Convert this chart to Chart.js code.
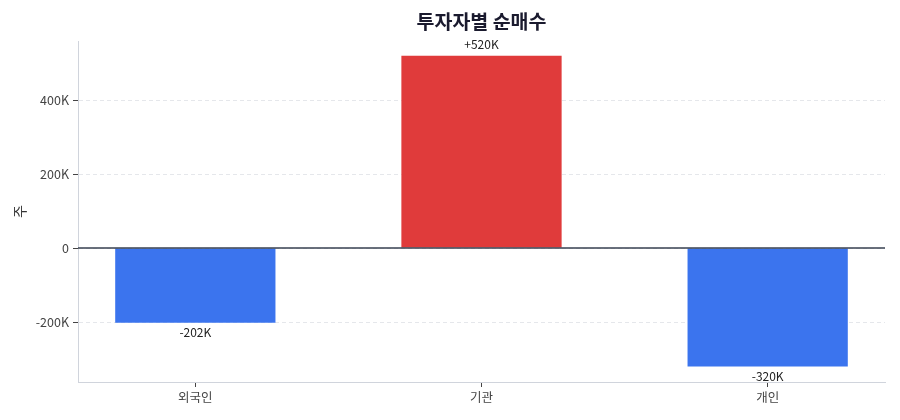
<!DOCTYPE html>
<html>
<head>
<meta charset="utf-8">
<script src="https://cdn.jsdelivr.net/npm/chart.js@4/dist/chart.umd.min.js"></script>
<style>
  html, body { margin: 0; padding: 0; background: #fff; }
  #wrap { width: 900px; height: 420px; }
</style>
</head>
<body>
<div id="wrap"><canvas id="grafico"></canvas></div>
<script>
// Dados
const categorias = ["외국인", "기관", "개인"];
const valores = [-202000, 520000, -320000];
const ticksY = [-200000, 0, 200000, 400000];
const titulo = "투자자별 순매수";

const corPositivo = "#e03b3b";
const corNegativo = "#3b74ee";
const fonte = "'Noto Sans CJK KR', 'Noto Sans', sans-serif";

function formatarK(v) {
  if (v === 0) return "0";
  return v / 1000 + "K";
}

// título centrado na área do gráfico, linha do zero e rótulos das barras
const pluginExtras = {
  id: "extras",
  afterDatasetsDraw(chart) {
    const { ctx, chartArea, scales } = chart;
    const y0 = scales.y.getPixelForValue(0);
    ctx.save();
    ctx.strokeStyle = "#374151";
    ctx.lineWidth = 1.5;
    ctx.beginPath();
    ctx.moveTo(chartArea.left, y0);
    ctx.lineTo(chartArea.right, y0);
    ctx.stroke();

    ctx.font = "12px " + fonte;
    ctx.fillStyle = "#222";
    ctx.textAlign = "center";
    chart.getDatasetMeta(0).data.forEach((el, i) => {
      const v = valores[i];
      const txt = (v > 0 ? "+" : "-") + Math.abs(v) / 1000 + "K";
      if (v >= 0) {
        ctx.textBaseline = "bottom";
        ctx.fillText(txt, el.x, el.y - 5);
      } else {
        ctx.textBaseline = "top";
        ctx.fillText(txt, el.x, el.y + 4);
      }
    });

    ctx.font = "bold 19.5px " + fonte;
    ctx.fillStyle = "#1a1a2e";
    ctx.textBaseline = "middle";
    ctx.fillText(titulo, (chartArea.left + chartArea.right) / 2, 22);
    ctx.restore();
  },
};

new Chart(document.getElementById("grafico"), {
  type: "bar",
  data: {
    datasets: [
      {
        data: valores.map((v, i) => ({ x: i, y: v })),
        backgroundColor: valores.map((v) => (v >= 0 ? corPositivo : corNegativo)),
        barPercentage: 0.56,
        categoryPercentage: 1,
      },
    ],
  },
  options: {
    responsive: true,
    maintainAspectRatio: false,
    animation: false,
    layout: { padding: { left: 0, right: 15, top: 41, bottom: 0 } },
    plugins: {
      legend: { display: false },
      tooltip: { enabled: false },
      title: { display: false },
    },
    scales: {
      x: {
        type: "linear",
        min: -0.41,
        max: 2.41,
        offset: false,
        afterBuildTicks: (s) => {
          s.ticks = categorias.map((c, i) => ({ value: i }));
        },
        afterFit: (s) => {
          s.height = 38;
        },
        ticks: {
          callback: (v) => categorias[v],
          color: "#444",
          font: { family: fonte, size: 12.5 },
          padding: 3,
          maxRotation: 0,
        },
        grid: {
          offset: false,
          drawOnChartArea: false,
          drawTicks: true,
          tickLength: 5,
          tickColor: "#444",
        },
        border: { color: "#d0d4dc", width: 1 },
      },
      y: {
        min: -362000,
        max: 560000,
        afterBuildTicks: (s) => {
          s.ticks = ticksY.map((v) => ({ value: v }));
        },
        afterFit: (s) => {
          s.width = 78;
        },
        title: {
          display: true,
          text: "주",
          color: "#333",
          font: { family: fonte, size: 14 },
          padding: { top: 11, bottom: 4 },
        },
        ticks: {
          callback: formatarK,
          color: "#444",
          font: { family: fonte, size: 12.5 },
          padding: 4,
        },
        grid: {
          color: "#e5e7eb",
          tickColor: "#444",
          tickLength: 5,
          tickBorderDash: [],
        },
        border: { color: "#d0d4dc", width: 1, dash: [4, 3] },
      },
    },
  },
  plugins: [pluginExtras],
});
</script>
</body>
</html>
